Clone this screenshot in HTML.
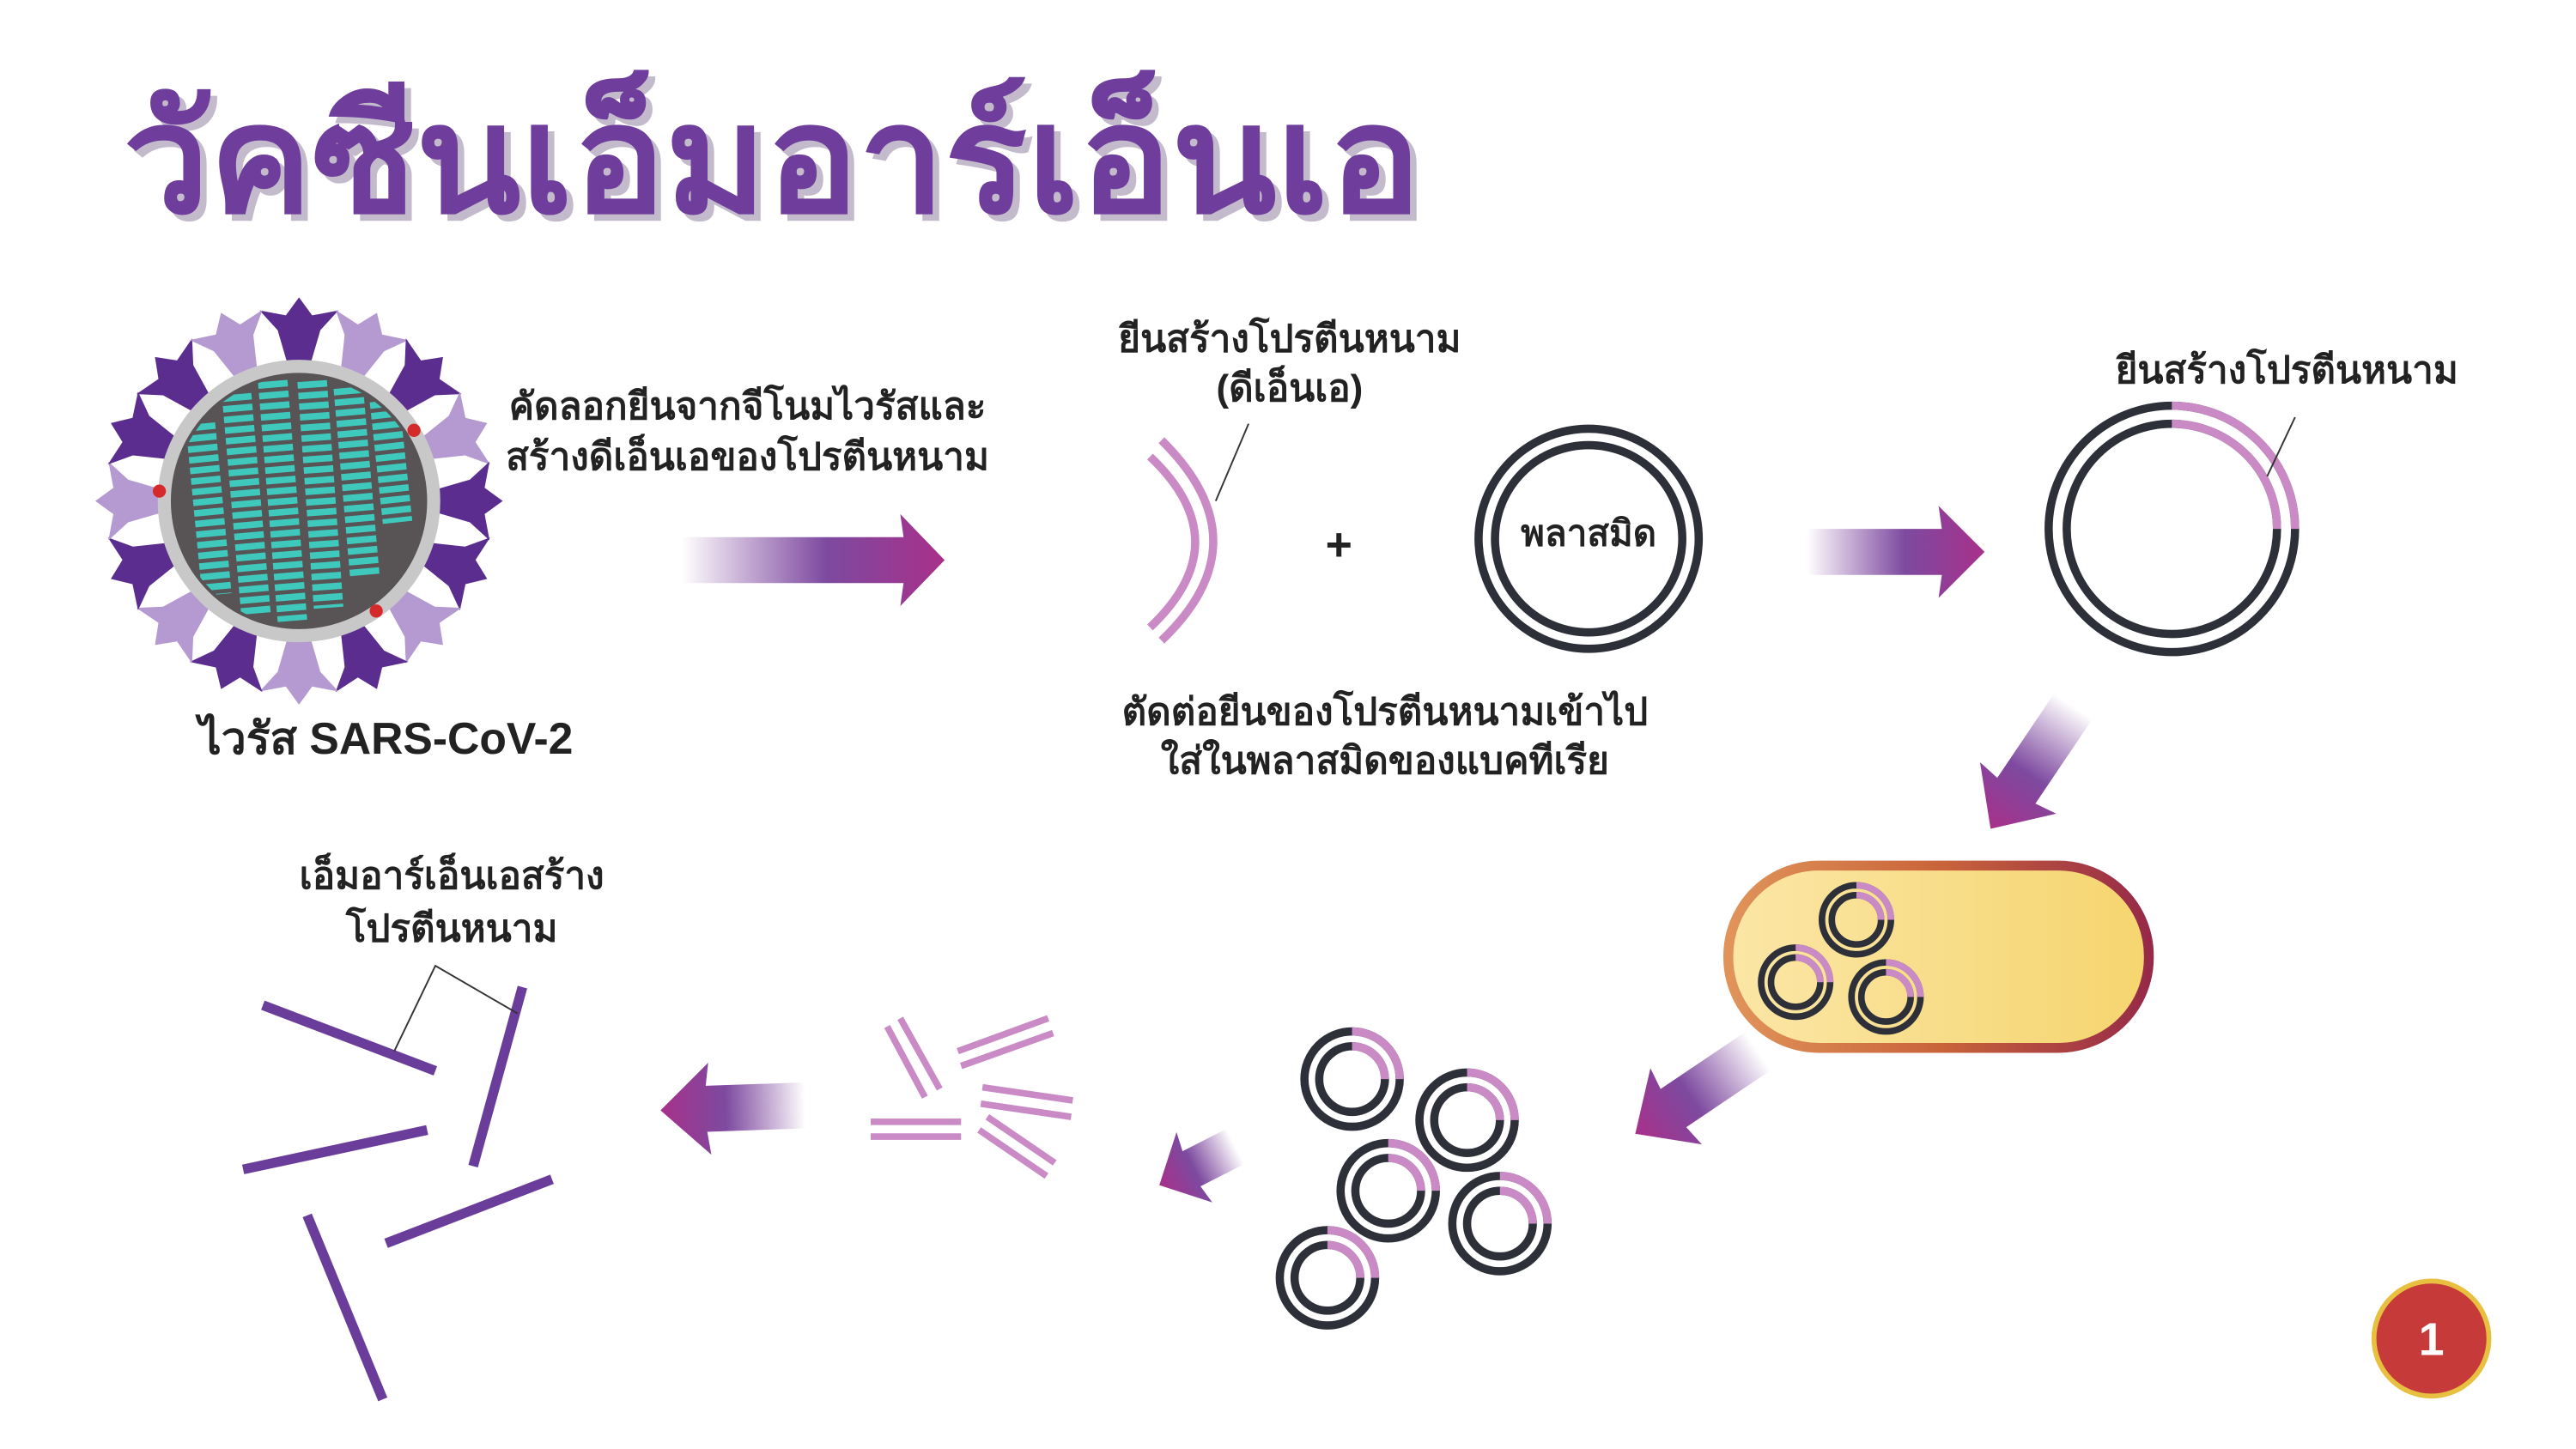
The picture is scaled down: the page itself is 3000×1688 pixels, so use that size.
<!DOCTYPE html>
<html><head><meta charset="utf-8"><style>
html,body{margin:0;padding:0;background:#fff}
svg{display:block}
text{font-family:"Liberation Sans","Noto Sans CJK SC",sans-serif;font-weight:bold}
</style></head><body>
<svg width="3000" height="1688" viewBox="0 0 1568 882.2" xmlns="http://www.w3.org/2000/svg">
<defs>
<linearGradient id="ag" x1="0" y1="0" x2="1" y2="0">
<stop offset="0" stop-color="#7b3f9a" stop-opacity="0"/>
<stop offset="0.55" stop-color="#7d4aa0"/>
<stop offset="1" stop-color="#a8308a"/>
</linearGradient>
<linearGradient id="bs" x1="0" y1="0" x2="1" y2="0">
<stop offset="0" stop-color="#e0945a"/><stop offset="0.5" stop-color="#c9643a"/><stop offset="1" stop-color="#962a48"/>
</linearGradient>
<linearGradient id="bf" x1="0" y1="0" x2="1" y2="0">
<stop offset="0" stop-color="#fbe6a6"/><stop offset="1" stop-color="#f5d56e"/>
</linearGradient>
<clipPath id="vc"><circle cx="182" cy="305" r="76"/></clipPath>
<g id="spk"><path d="M-6,-80 L6,-80 L13,-104 L24,-116 L8,-113 L0,-124 L-8,-113 L-24,-116 L-13,-104 Z"/></g>
</defs>

<!-- title -->
<text x="79" y="133" font-size="92" fill="#3c1f5a" opacity="0.3" textLength="790" lengthAdjust="spacingAndGlyphs">วัคซีนเอ็มอาร์เอ็นเอ</text>
<text x="75" y="129" font-size="92" fill="#6f3d9b" textLength="790" lengthAdjust="spacingAndGlyphs">วัคซีนเอ็มอาร์เอ็นเอ</text>

<!-- virus -->
<g transform="translate(182,305)">
<use href="#spk" fill="#5b2d8e" transform="rotate(0)"/>
<use href="#spk" fill="#b49ad0" transform="rotate(22.5)"/>
<use href="#spk" fill="#5b2d8e" transform="rotate(45)"/>
<use href="#spk" fill="#b49ad0" transform="rotate(67.5)"/>
<use href="#spk" fill="#5b2d8e" transform="rotate(90)"/>
<use href="#spk" fill="#5b2d8e" transform="rotate(112.5)"/>
<use href="#spk" fill="#b49ad0" transform="rotate(135)"/>
<use href="#spk" fill="#5b2d8e" transform="rotate(157.5)"/>
<use href="#spk" fill="#b49ad0" transform="rotate(180)"/>
<use href="#spk" fill="#5b2d8e" transform="rotate(202.5)"/>
<use href="#spk" fill="#b49ad0" transform="rotate(225)"/>
<use href="#spk" fill="#5b2d8e" transform="rotate(247.5)"/>
<use href="#spk" fill="#b49ad0" transform="rotate(270)"/>
<use href="#spk" fill="#5b2d8e" transform="rotate(292.5)"/>
<use href="#spk" fill="#5b2d8e" transform="rotate(315)"/>
<use href="#spk" fill="#b49ad0" transform="rotate(337.5)"/>
</g>
<circle cx="182" cy="305" r="82" fill="#585456" stroke="#c8c8c8" stroke-width="8"/>
<g clip-path="url(#vc)" stroke="#3fc9bd" stroke-width="18" stroke-dasharray="4 2.5" fill="none">
<path d="M122,258 L132,362"/><path d="M144,240 L156,376"/><path d="M166,232 L178,378"/>
<path d="M190,232 L200,370"/><path d="M212,236 L222,350"/><path d="M234,244 L242,318"/>
</g>
<circle cx="97" cy="299" r="4" fill="#d42a2a"/><circle cx="252" cy="262" r="4" fill="#d42a2a"/><circle cx="229" cy="372" r="4" fill="#d42a2a"/>
<text x="235" y="459" font-size="27" fill="#222" text-anchor="middle">ไวรัส SARS-CoV-2</text>

<!-- arrows -->
<g fill="url(#ag)">
<path transform="translate(415,341)" d="M0,-14 L135,-14 L133,-28 L160,0 L133,28 L135,14 L0,14 Z"/>
<path transform="translate(1100,336)" d="M0,-14 L82,-14 L80,-28 L108,0 L80,28 L82,14 L0,14 Z"/>
<path transform="translate(1262,430) rotate(124)" d="M0,-14 L62,-14 L60,-28 L90,0 L60,28 L62,14 L0,14 Z"/>
<path transform="translate(1070,640) rotate(146)" d="M0,-14 L62,-14 L60,-28 L90,0 L60,28 L62,14 L0,14 Z"/>
<path transform="translate(752,698) rotate(153)" d="M0,-12 L30,-12 L28,-24 L52,0 L28,24 L30,12 L0,12 Z"/>
<path transform="translate(490,673) rotate(178)" d="M0,-14 L60,-14 L58,-28 L88,0 L58,28 L60,14 L0,14 Z"/>
</g>

<!-- labels -->
<g fill="#222" font-size="23" text-anchor="middle">
<text x="455" y="255">คัดลอกยีนจากจีโนมไวรัสและ</text>
<text x="455" y="286">สร้างดีเอ็นเอของโปรตีนหนาม</text>
<text x="785" y="214">ยีนสร้างโปรตีนหนาม</text>
<text x="785" y="244">(ดีเอ็นเอ)</text>
<text x="843" y="441">ตัดต่อยีนของโปรตีนหนามเข้าไป</text>
<text x="843" y="471">ใส่ในพลาสมิดของแบคทีเรีย</text>
<text x="1392" y="233">ยีนสร้างโปรตีนหนาม</text>
<text x="275" y="541">เอ็มอาร์เอ็นเอสร้าง</text>
<text x="275" y="573">โปรตีนหนาม</text>
<text x="815" y="341" font-size="28">+</text>
<text x="967" y="332" font-size="22">พลาสมิด</text>
</g>

<!-- DNA arc -->
<g fill="none" stroke="#c98ac6" stroke-width="5">
<path d="M707,268 Q770,330 707,390"/>
<path d="M700,278 Q755,330 700,382"/>
</g>
<line x1="740" y1="305" x2="760" y2="258" stroke="#333" stroke-width="1"/>

<!-- plasmid -->
<g fill="none" stroke="#2d3038" stroke-width="5">
<circle cx="967" cy="328" r="67"/><circle cx="967" cy="328" r="57"/>
<circle cx="1322" cy="322" r="75"/><circle cx="1322" cy="322" r="64"/>
</g>
<g fill="none" stroke="#c98ac6" stroke-width="5">
<path d="M1322,247 A75,75 0 0 1 1397,322"/><path d="M1322,258 A64,64 0 0 1 1386,322"/>
</g>
<line x1="1380" y1="290" x2="1397" y2="254" stroke="#333" stroke-width="1"/>

<!-- bacterium -->
<rect x="1052" y="527" width="256" height="111" rx="55" fill="url(#bf)" stroke="url(#bs)" stroke-width="6"/>

<g fill="none" stroke-width="4">
<g transform="translate(1130,560)"><circle r="21" stroke="#2d3038"/><circle r="15" stroke="#2d3038"/><path d="M0,-21 A21,21 0 0 1 21,0 M0,-15 A15,15 0 0 1 15,0" stroke="#c98ac6"/></g>
<g transform="translate(1093,598)"><circle r="21" stroke="#2d3038"/><circle r="15" stroke="#2d3038"/><path d="M0,-21 A21,21 0 0 1 21,0 M0,-15 A15,15 0 0 1 15,0" stroke="#c98ac6"/></g>
<g transform="translate(1148,607)"><circle r="21" stroke="#2d3038"/><circle r="15" stroke="#2d3038"/><path d="M0,-21 A21,21 0 0 1 21,0 M0,-15 A15,15 0 0 1 15,0" stroke="#c98ac6"/></g>
</g>
<g fill="none" stroke-width="5">
<g transform="translate(823,657)"><circle r="29" stroke="#2d3038"/><circle r="20" stroke="#2d3038"/><path d="M0,-29 A29,29 0 0 1 29,0 M0,-20 A20,20 0 0 1 20,0" stroke="#c98ac6"/></g>
<g transform="translate(893,682)"><circle r="29" stroke="#2d3038"/><circle r="20" stroke="#2d3038"/><path d="M0,-29 A29,29 0 0 1 29,0 M0,-20 A20,20 0 0 1 20,0" stroke="#c98ac6"/></g>
<g transform="translate(845,725)"><circle r="29" stroke="#2d3038"/><circle r="20" stroke="#2d3038"/><path d="M0,-29 A29,29 0 0 1 29,0 M0,-20 A20,20 0 0 1 20,0" stroke="#c98ac6"/></g>
<g transform="translate(913,745)"><circle r="29" stroke="#2d3038"/><circle r="20" stroke="#2d3038"/><path d="M0,-29 A29,29 0 0 1 29,0 M0,-20 A20,20 0 0 1 20,0" stroke="#c98ac6"/></g>
<g transform="translate(808,778)"><circle r="29" stroke="#2d3038"/><circle r="20" stroke="#2d3038"/><path d="M0,-29 A29,29 0 0 1 29,0 M0,-20 A20,20 0 0 1 20,0" stroke="#c98ac6"/></g>
</g>

<!-- mRNA fragments -->
<g stroke="#c98ac6" stroke-width="4">
<line x1="540" y1="625" x2="563" y2="668"/><line x1="548" y1="620" x2="572" y2="663"/>
<line x1="583" y1="640" x2="638" y2="620"/><line x1="585" y1="649" x2="641" y2="629"/>
<line x1="530" y1="683" x2="585" y2="683"/><line x1="530" y1="692" x2="585" y2="692"/>
<line x1="598" y1="662" x2="653" y2="670"/><line x1="597" y1="672" x2="652" y2="680"/>
<line x1="596" y1="688" x2="637" y2="716"/><line x1="601" y1="680" x2="642" y2="708"/>
</g>

<!-- proteins -->
<g stroke="#6a3d9a" stroke-width="6">
<line x1="160" y1="612" x2="265" y2="652"/>
<line x1="318" y1="601" x2="288" y2="710"/>
<line x1="148" y1="712" x2="260" y2="688"/>
<line x1="235" y1="757" x2="336" y2="718"/>
<line x1="187" y1="740" x2="233" y2="852"/>
</g>
<polyline points="240,640 265,588 315,617" fill="none" stroke="#333" stroke-width="1"/>

<!-- badge -->
<circle cx="1480" cy="815" r="35" fill="#c73a3a" stroke="#e8c040" stroke-width="3"/>
<text x="1480" y="825" font-size="28" fill="#fff" text-anchor="middle">1</text>
</svg>
</body></html>
